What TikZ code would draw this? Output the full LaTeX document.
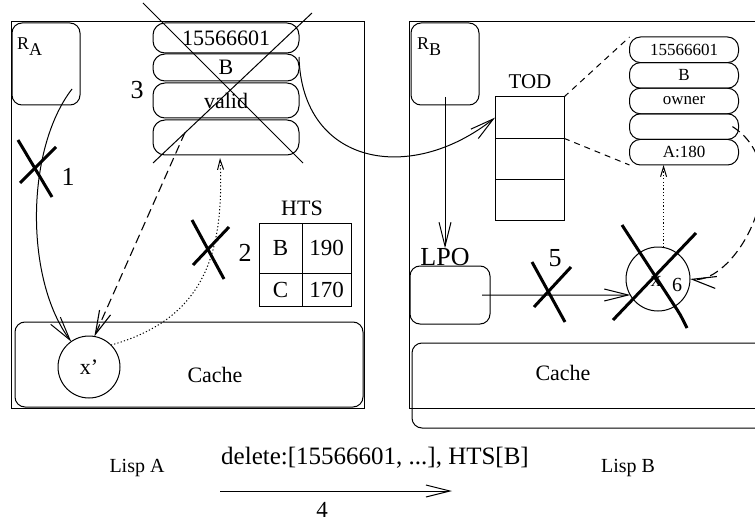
\documentclass[tikz,border=0pt]{standalone}
\usepackage{fontspec}
\setmainfont{Liberation Serif}
\usetikzlibrary{positioning,arrows.meta}

\begin{document}
\begin{tikzpicture}[x=1pt, y=-1pt, line width=1pt, inner sep=0pt, outer sep=0pt,
  arr/.style={-{Straight Barb[length=24pt,width=12pt]}},
  small tip/.style={-{Straight Barb[length=10pt,width=6pt]}},
  reg/.style={draw, rounded corners=10pt, minimum width=68pt, minimum height=82pt},
  recA/.style={draw, rounded corners=12pt, minimum width=146pt, font=\fontsize{22}{24}\selectfont},
  recB/.style={draw, rounded corners=11pt, minimum width=109pt, minimum height=25.6pt, font=\fontsize{17}{19}\selectfont},
  todrow/.style={draw, minimum width=69pt, minimum height=41.3pt},
  cell/.style={draw, font=\fontsize{23}{25}\selectfont},
  cache/.style={draw, rounded corners=10pt, minimum height=85pt},
  xmark/.style={line width=3pt},
  num/.style={font=\fontsize{26}{28}\selectfont},
  txt/.style={font=\fontsize{22}{24}\selectfont},
  longdash/.style={line width=1.1pt, dash pattern=on 9pt off 5pt},
  shortdash/.style={dash pattern=on 6pt off 5pt},
  fine dots/.style={dash pattern=on 1.2pt off 2.2pt}]
\useasboundingbox (0,0) rectangle (755,524);

% Lisp A
\draw (11,22) rectangle (364,408);
\node[reg, anchor=north west] (ra) at (12,23) {};
\node[font=\fontsize{18}{20}\selectfont, anchor=north west] at (17,38) {R\raisebox{-6pt}{A}};
\node[cache, minimum width=348pt, anchor=north west] (cacheA) at (15,322) {};
\node[txt] at (215,375) {Cache};
\node[draw, circle, minimum size=62pt, txt] (xa) at (89,367) {x’};

\node[recA, minimum height=30pt, anchor=north] (recA_1) at (226,23) {15566601};
\node[recA, minimum height=27pt] (recA_2) [below=1pt of recA_1] {B};
\node[recA, minimum height=35pt] (recA_3) [below=2pt of recA_2] {valid};
\node[recA, minimum height=35pt] (recA_4) [below=2pt of recA_3] {};
\draw (143,3) -- (303,163);
\draw (312,13) -- (153,163);
\node[num] at (137,90) {3};

\node[txt] (hts) at (302,208) {HTS};
\node[cell, minimum width=43pt, minimum height=50pt, anchor=north west] (hts_b) at (259,223) {B};
\node[cell, minimum width=49pt, minimum height=50pt] (hts_b1) [right=0pt of hts_b] {190};
\node[cell, minimum width=43pt, minimum height=33pt] (hts_c) [below=0pt of hts_b] {C};
\node[cell, minimum width=49pt, minimum height=33pt] (hts_c1) [below=0pt of hts_b1] {170};

\draw[arr] ([xshift=-8pt,yshift=16pt]ra.south east) .. controls (25,150) and (25,280) .. (xa.125);
\draw[xmark] (18,140) -- (52,197);
\draw[xmark] (20,183) -- (56,147);
\node[num] at (68,177) {1};

\draw[arr, longdash] ([xshift=32pt,yshift=5pt]recA_4.west) -- (xa.80);
\draw[small tip, fine dots] (xa.45) .. controls (200,320) and (225,260) .. ([xshift=-6pt,yshift=-3pt]recA_4.south);
\draw[xmark] (192,220) -- (224,279);
\draw[xmark] (193,265) -- (229,227);
\node[num] at (245,253) {2};

% Lisp B
\draw (409,22) rectangle (790,408);
\node[reg, anchor=north west] (rb) at (411,23) {};
\node[font=\fontsize{18}{20}\selectfont, anchor=north west] at (417,38) {R\raisebox{-6pt}{B}};
\node[cache, minimum width=370pt, anchor=north west] (cacheB) at (412,343) {};
\node[txt] at (563,373) {Cache};

\node[font=\fontsize{21}{23}\selectfont] (todlabel) at (530,82) {TOD};
\node[todrow, anchor=north west] (tod_1) at (495,97) {};
\node[todrow] (tod_2) [below=0pt of tod_1] {};
\node[todrow] (tod_3) [below=0pt of tod_2] {};

\node[recB, anchor=north] (recB_1) at (684,37) {15566601};
\node[recB] (recB_2) [below=0pt of recB_1] {B};
\node[recB] (recB_3) [below=0pt of recB_2] {owner};
\node[recB] (recB_4) [below=0pt of recB_3] {};
\node[recB] (recB_5) [below=0pt of recB_4] {A:180};

\node[font=\fontsize{26}{28}\selectfont] (lpo) at (445,257) {LPO};
\node[draw, rounded corners=10pt, minimum width=80pt, minimum height=58pt, anchor=north west] (lpobox) at (410,266) {};

\node[draw, circle, minimum size=64pt] (xb) at (658,279) {};
\node[txt] at (656,281) {x};
\node[font=\fontsize{20}{22}\selectfont] at (677,285) {6};

\path[arr] ([yshift=8pt]rb.south) edge (lpo.north)
  ([xshift=-8pt]lpobox.east) edge (xb.210);
\draw[arr] ([yshift=-3pt]recA_2.north east) .. controls (302,165) and (410,185) .. (tod_1.west);
\draw[shortdash] (tod_1.north east) -- (recB_1.north west);
\draw[shortdash] (tod_1.south east) -- (recB_5.south west);
\draw[small tip, fine dots] (xb.80) -- (xb.80 |- recB_5.south);
\draw[arr, longdash] ([xshift=-6pt]recB_4.east) .. controls (800,170) and (735,285) .. (xb.east);

\draw[xmark] (532,262) -- (565,322);
\draw[xmark] (534,307) -- (571,267);
\node[num] at (555,258) {5};
\draw[xmark] (622,225) -- (674,305) .. controls (680,314) .. (687,328);
\draw[xmark] (613,320) -- (696,233);

% message
\node[font=\fontsize{20}{22}\selectfont] (lispa) at (137,468) {Lisp A};
\node[font=\fontsize{20}{22}\selectfont] (lispb) at (628,468) {Lisp B};
\node[font=\fontsize{25}{27}\selectfont] (msg) at (375,458) {delete:[15566601, ...], HTS[B]};
\coordinate (msg_s) at (220,491);
\coordinate (msg_e) at (452,491);
\draw[arr] (msg_s) -- (msg_e);
\node[font=\fontsize{23}{25}\selectfont] at (322,510) {4};
\end{tikzpicture}
\end{document}
